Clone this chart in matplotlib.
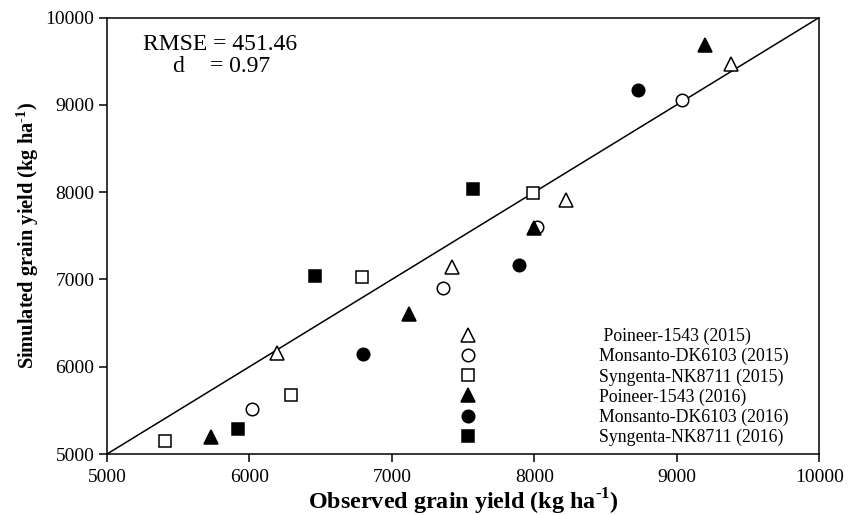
import matplotlib
matplotlib.use("Agg")
import matplotlib.pyplot as plt

plt.rcParams['font.family'] = ['Liberation Serif', 'DejaVu Serif']
plt.rcParams['mathtext.fontset'] = 'custom'
plt.rcParams['mathtext.rm'] = 'Liberation Serif'
plt.rcParams['mathtext.bf'] = 'Liberation Serif:bold'

# Data (kg/ha): observed vs simulated
p15_obs = [6190, 7420, 8220, 9380]
p15_sim = [6160, 7140, 7910, 9470]
m15_obs = [6020, 7360, 8020, 9040]
m15_sim = [5510, 6900, 7600, 9050]
s15_obs = [5410, 6290, 6790, 7990]
s15_sim = [5150, 5680, 7030, 7990]
p16_obs = [5730, 7120, 8000, 9200]
p16_sim = [5190, 6600, 7590, 9680]
m16_obs = [6800, 7890, 8730]
m16_sim = [6150, 7170, 9170]
s16_obs = [5920, 6460, 7570]
s16_sim = [5290, 7040, 8030]

labels = [" Poineer-1543 (2015)", "Monsanto-DK6103 (2015)", "Syngenta-NK8711 (2015)",
          "Poineer-1543 (2016)", "Monsanto-DK6103 (2016)", "Syngenta-NK8711 (2016)"]
ticks = [5000, 6000, 7000, 8000, 9000, 10000]

fig = plt.figure(figsize=(8.56, 5.15), dpi=100)
ax = fig.add_axes([0.125, 0.1184, 0.832, 0.8476])

ax.plot([5000, 10000], [5000, 10000], color='black', lw=1.1, zorder=1)

series = [
    (p15_obs, p15_sim, '^', 'white', 10),
    (m15_obs, m15_sim, 'o', 'white', 9),
    (s15_obs, s15_sim, 's', 'white', 8.5),
    (p16_obs, p16_sim, '^', 'black', 10),
    (m16_obs, m16_sim, 'o', 'black', 9),
    (s16_obs, s16_sim, 's', 'black', 8.5),
]
for (xo, ys, mk, fc, ms), lab in zip(series, labels):
    ax.plot(xo, ys, linestyle='none', marker=mk, markerfacecolor=fc,
            markeredgecolor='black', markeredgewidth=1.1, markersize=ms,
            label=lab, zorder=3)

ax.set_xlim(5000, 10000)
ax.set_ylim(5000, 10000)
ax.set_xticks(ticks)
ax.set_yticks(ticks)
ax.tick_params(axis='both', direction='out', length=6, width=1.1, labelsize=14,
               top=False, right=False)
ax.tick_params(axis='x', pad=5)
ax.tick_params(axis='y', pad=3)
for s in ax.spines.values():
    s.set_linewidth(1.1)

ax.set_xlabel("Observed grain yield (kg ha$^{\\mathbf{\u20101}}$)",
              fontsize=17.4, fontweight='bold')
ax.set_ylabel("Simulated grain yield (kg ha$^{\\mathbf{\u20101}}$)", fontsize=14.7,
              fontweight='bold')
ax.xaxis.set_label_coords(0.5, -0.074)
ax.yaxis.set_label_coords(-0.093, 0.5)

ax.text(0.0506, 0.9255, "RMSE = 451.46", transform=ax.transAxes, fontsize=17,
        ha='left', va='baseline')
ax.text(0.0913, 0.8745, "d", transform=ax.transAxes, fontsize=17,
        ha='left', va='baseline')
ax.text(0.1447, 0.8745, "= 0.97", transform=ax.transAxes, fontsize=17,
        ha='left', va='baseline')

leg = ax.legend(loc='lower left', bbox_to_anchor=(0.483, 0.0), frameon=False,
                fontsize=12.8, handlelength=1.0, handletextpad=6.88,
                labelspacing=0.16, borderaxespad=0.05)

fig.savefig("out.png", dpi=100)
